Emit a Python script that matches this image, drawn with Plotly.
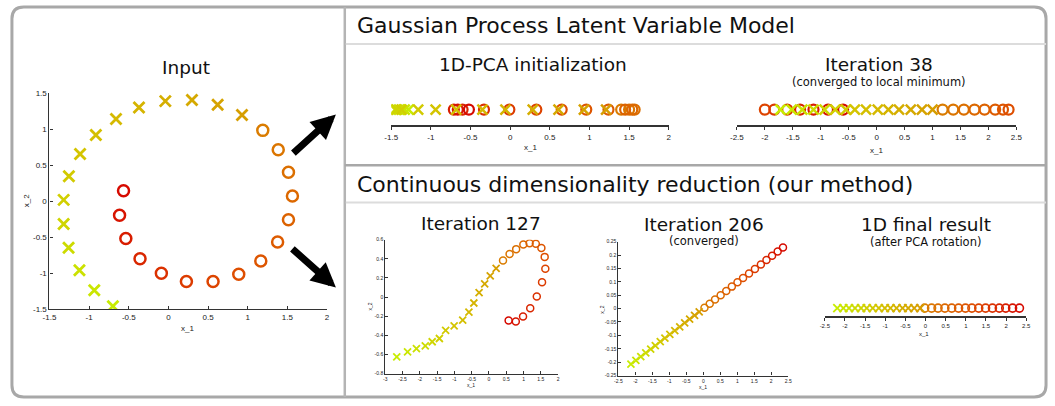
import plotly.graph_objects as go

W, H = 1055, 406

# ---------------- data ----------------
# 30 samples on an open ring; the first 15 are drawn as crosses, the rest as circles
input_x1 = [-0.70, -0.935, -1.122, -1.259, -1.321, -1.321, -1.255, -1.114, -0.915, -0.661,
            -0.371, -0.039, 0.297, 0.621, 0.928,
            1.190, 1.385, 1.514, 1.564, 1.514, 1.377, 1.165, 0.887, 0.563, 0.227,
            -0.089, -0.358, -0.537, -0.616, -0.566]
input_x2 = [-1.46, -1.24, -0.96, -0.65, -0.32, 0.016, 0.345, 0.652, 0.918, 1.139,
            1.297, 1.387, 1.401, 1.338, 1.193,
            0.981, 0.711, 0.399, 0.070, -0.259, -0.570, -0.832, -1.017, -1.116, -1.116,
            -1.003, -0.800, -0.521, -0.196, 0.142]

pca_x1 = [-1.28, -1.33, -1.40, -1.45, -1.43, -1.37, -1.16, -0.94, -0.68, -0.35,
          -0.06, 0.285, 0.61, 0.93, 1.21,
          1.40, 1.50, 1.57, 1.54, 1.45, 1.24, 0.96, 0.65, 0.33, -0.01,
          -0.33, -0.60, -0.71, -0.66, -0.52]

iter38_x1 = [-1.72, -1.52, -1.33, -1.13, -0.93, -0.74, -0.55, -0.39, -0.19, 0.02,
             0.21, 0.40, 0.61, 0.81, 1.00,
             1.18, 1.37, 1.56, 1.75, 1.93, 2.12, 2.26, 2.36, -2.00, -1.83,
             -1.60, -1.37, -1.13, -0.87, -0.60]

iter127_x1 = [-2.668, -2.355, -2.099, -1.843, -1.643, -1.435, -1.254, -1.008, -0.761, -0.581,
              -0.438, -0.286, -0.125, 0.036, 0.207,
              0.406, 0.596, 0.786, 0.994, 1.175, 1.355, 1.516, 1.611, 1.630, 1.535,
              1.383, 1.193, 0.985, 0.776, 0.568]
iter127_x2 = [-0.626, -0.572, -0.538, -0.511, -0.467, -0.433, -0.347, -0.300, -0.242, -0.157,
              -0.062, 0.047, 0.139, 0.221, 0.299,
              0.382, 0.450, 0.501, 0.549, 0.563, 0.556, 0.512, 0.420, 0.297, 0.154,
              0.007, -0.116, -0.204, -0.255, -0.245]

iter206_x1 = [-2.131, -1.985, -1.840, -1.694, -1.549, -1.413, -1.267, -1.131, -0.985, -0.840,
              -0.694, -0.549, -0.403, -0.257, -0.121,
              0.034, 0.189, 0.345, 0.510, 0.675, 0.840, 1.005, 1.170, 1.345, 1.519,
              1.694, 1.859, 2.024, 2.189, 2.345]
iter206_x2 = [-0.207, -0.193, -0.179, -0.165, -0.151, -0.138, -0.123, -0.110, -0.096, -0.082,
              -0.068, -0.053, -0.039, -0.025, -0.012,
              0.003, 0.018, 0.034, 0.050, 0.066, 0.082, 0.098, 0.114, 0.131, 0.148,
              0.165, 0.181, 0.197, 0.213, 0.228]

final_x1 = [-2.19, -2.04, -1.90, -1.75, -1.60, -1.46, -1.31, -1.16, -1.01, -0.87,
            -0.72, -0.57, -0.43, -0.28, -0.13,
            -0.02, 0.15, 0.31, 0.48, 0.65, 0.82, 0.99, 1.15, 1.32, 1.49,
            1.66, 1.83, 1.99, 2.16, 2.33]

N_CROSS = 15

# tick values / labels
ticks_in_x = [-1.5, -1, -0.5, 0, 0.5, 1, 1.5, 2]
ticks_in_x_lbl = ["-1.5", "-1", "-0.5", "0", "0.5", "1", "1.5", "2"]
ticks_in_y = [-1.5, -1, -0.5, 0, 0.5, 1, 1.5]
ticks_in_y_lbl = ["-1.5", "-1", "-0.5", "0", "0.5", "1", "1.5"]
ticks_pca = [-1.5, -1, -0.5, 0, 0.5, 1, 1.5, 2]
ticks_pca_lbl = ["-1.5", "-1", "-0.5", "0", "0.5", "1", "1.5", "2"]
ticks_25 = [-2.5, -2, -1.5, -1, -0.5, 0, 0.5, 1, 1.5, 2, 2.5]
ticks_25_lbl = ["-2.5", "-2", "-1.5", "-1", "-0.5", "0", "0.5", "1", "1.5", "2", "2.5"]
ticks_127_x = [-3, -2.5, -2, -1.5, -1, -0.5, 0, 0.5, 1, 1.5, 2]
ticks_127_x_lbl = ["-3", "-2.5", "-2", "-1.5", "-1", "-0.5", "0", "0.5", "1", "1.5", "2"]
ticks_127_y = [-0.8, -0.6, -0.4, -0.2, 0, 0.2, 0.4, 0.6]
ticks_127_y_lbl = ["-0.8", "-0.6", "-0.4", "-0.2", "0", "0.2", "0.4", "0.6"]
ticks_206_y = [-0.25, -0.2, -0.15, -0.1, -0.05, 0, 0.05, 0.1, 0.15, 0.2, 0.25]
ticks_206_y_lbl = ["-0.25", "-0.2", "-0.15", "-0.1", "-0.05", "0", "0.05", "0.1", "0.15", "0.2", "0.25"]


# ---------------- helpers ----------------
def px(x):
    return x / W


def py(y):
    return 1 - y / H


def lerp(c0, c1, t):
    return tuple(round(a + (b - a) * t) for a, b in zip(c0, c1))


def point_colours(n=30, n_cross=N_CROSS):
    out = []
    for i in range(n):
        if i < n_cross:
            t = i / (n_cross - 1)
            if t < 0.5:
                c = lerp((200, 236, 0), (212, 196, 0), t / 0.5)
            else:
                c = lerp((212, 196, 0), (214, 158, 0), (t - 0.5) / 0.5)
        else:
            t = (i - n_cross) / (n - n_cross - 1)
            if t < 0.5:
                c = lerp((218, 124, 0), (222, 78, 0), t / 0.5)
            else:
                c = lerp((222, 78, 0), (214, 10, 0), (t - 0.5) / 0.5)
        out.append("rgb(%d,%d,%d)" % c)
    return out


COLS = point_colours()
TICK_FONT = "Liberation Sans, Arial, sans-serif"
TITLE_FONT = "DejaVu Sans, Verdana, sans-serif"

fig = go.Figure()


def add_points(xs, ys, ax_id, size, lw):
    xa = "x" if ax_id == 1 else "x%d" % ax_id
    ya = "y" if ax_id == 1 else "y%d" % ax_id
    # circles first, crosses on top
    cx = xs[N_CROSS:]
    cy = ys[N_CROSS:]
    cc = COLS[N_CROSS:]
    fig.add_trace(go.Scatter(x=cx, y=cy, mode="markers", xaxis=xa, yaxis=ya,
                             marker=dict(symbol="circle-open", size=size, color=cc,
                                         line=dict(width=lw, color=cc)),
                             hoverinfo="skip", showlegend=False))
    kx = xs[:N_CROSS]
    ky = ys[:N_CROSS]
    kc = COLS[:N_CROSS]
    fig.add_trace(go.Scatter(x=kx, y=ky, mode="markers", xaxis=xa, yaxis=ya,
                             marker=dict(symbol="x-thin", size=size, color=kc,
                                         line=dict(width=lw + 0.3, color=kc)),
                             hoverinfo="skip", showlegend=False))


def axis(domain, rng, tv, tt, fsize, show=True, line_w=1.2):
    return dict(domain=domain, range=rng, tickvals=tv, ticktext=tt,
                showline=show, linecolor="#333333", linewidth=line_w,
                ticks="inside" if show else "", ticklen=3, tickcolor="#333333",
                showgrid=False, zeroline=False, visible=show,
                tickfont=dict(family=TICK_FONT, size=fsize, color="#222222"),
                fixedrange=True)


ZEROS = [0] * 30

# 1: input
add_points(input_x1, input_x2, 1, 11, 2.5)
fig.update_layout(
    xaxis=axis([px(43), px(324)], [-1.5, 2], ticks_in_x, ticks_in_x_lbl, 8),
    yaxis=axis([py(312), py(91)], [-1.5, 1.5], ticks_in_y, ticks_in_y_lbl, 8),
)
# 2: 1D-PCA initialization
add_points(pca_x1, ZEROS, 2, 10, 2.2)
# 3: Iteration 38
add_points(iter38_x1, ZEROS, 3, 10, 2.2)
# 4: Iteration 127
add_points(iter127_x1, iter127_x2, 4, 7, 1.5)
# 5: Iteration 206
add_points(iter206_x1, iter206_x2, 5, 7, 1.5)
# 6: 1D final result
add_points(final_x1, ZEROS, 6, 8, 1.6)

one_d_y = [py(124), py(92)]
fig.update_layout(
    xaxis2=dict(axis([px(389), px(670)], [-1.5, 2], ticks_pca, ticks_pca_lbl, 8, line_w=1.5),
                anchor="y2", ticks="outside"),
    yaxis2=dict(domain=one_d_y, range=[-1, 1], visible=False, fixedrange=True, anchor="x2"),
    xaxis3=dict(axis([px(739), px(1022)], [-2.5, 2.5], ticks_25, ticks_25_lbl, 8, line_w=1.5),
                anchor="y3", ticks="outside"),
    yaxis3=dict(domain=one_d_y, range=[-1, 1], visible=False, fixedrange=True, anchor="x3"),
    xaxis4=dict(axis([px(383), px(558)], [-3, 2], ticks_127_x, ticks_127_x_lbl, 5), anchor="y4"),
    yaxis4=dict(axis([py(378), py(241)], [-0.8, 0.6], ticks_127_y, ticks_127_y_lbl, 5), anchor="x4"),
    xaxis5=dict(axis([px(619), px(791)], [-2.5, 2.5], ticks_25, ticks_25_lbl, 5), anchor="y5"),
    yaxis5=dict(axis([py(380), py(243)], [-0.25, 0.25], ticks_206_y, ticks_206_y_lbl, 5), anchor="x5"),
    xaxis6=dict(axis([px(828), px(1032)], [-2.5, 2.5], ticks_25, ticks_25_lbl, 6, line_w=1.5),
                anchor="y6", ticks="outside"),
    yaxis6=dict(domain=[py(319), py(303)], range=[-1, 1], visible=False, fixedrange=True, anchor="x6"),
)

# ---------------- texts ----------------
annotations = []


def text(x, y, s, size, anchor="center", angle=0, family=TITLE_FONT, color="#111111"):
    annotations.append(dict(x=px(x), y=py(y), xref="paper", yref="paper", text=s,
                            showarrow=False, xanchor=anchor, yanchor="middle",
                            textangle=angle, borderpad=0,
                            font=dict(family=family, size=size, color=color)))


text(353, 22, "Gaussian Process Latent Variable Model", 22, anchor="left")
text(353, 185, "Continuous dimensionality reduction (our method)", 22, anchor="left")
text(181, 65, "Input", 18.5)
text(533, 62, "1D-PCA initialization", 18.5)
text(883, 62, "Iteration 38", 18.5)
text(883, 80, "(converged to local minimum)", 11.5)
text(480, 224, "Iteration 127", 18.5)
text(706, 225, "Iteration 206", 18.5)
text(706, 242, "(converged)", 11.5)
text(930, 225, "1D final result", 18.5)
text(930, 243, "(after PCA rotation)", 11.5)

# axis titles
text(183, 332, "x_1", 8, family=TICK_FONT, color="#222222")
text(20, 201, "x_2", 8, angle=-90, family=TICK_FONT, color="#222222")
text(530, 147, "x_1", 8, family=TICK_FONT, color="#222222")
text(880, 150, "x_1", 8, family=TICK_FONT, color="#222222")
text(470, 390, "x_1", 5, family=TICK_FONT, color="#222222")
text(368, 309, "x_2", 5, angle=-90, family=TICK_FONT, color="#222222")
text(705, 392, "x_1", 5, family=TICK_FONT, color="#222222")
text(602, 313, "x_2", 5, angle=-90, family=TICK_FONT, color="#222222")
text(928, 337, "x_1", 6, family=TICK_FONT, color="#222222")

# arrows from the input panel to the two method panels
for (hx, hy, tx, ty) in [(333, 113, 289, 153), (333, 290, 288, 250)]:
    annotations.append(dict(x=px(hx), y=py(hy), xref="paper", yref="paper",
                            ax=tx - hx, ay=ty - hy, axref="pixel", ayref="pixel",
                            showarrow=True, arrowhead=2, arrowsize=0.7, arrowwidth=7,
                            arrowcolor="#000000", standoff=0, text=""))

# ---------------- frame ----------------
def rounded_rect(x0, y0, x1, y1, r):
    pts = [
        "M %f,%f" % (px(x0 + r), py(y0)),
        "L %f,%f" % (px(x1 - r), py(y0)),
        "Q %f,%f %f,%f" % (px(x1), py(y0), px(x1), py(y0 + r)),
        "L %f,%f" % (px(x1), py(y1 - r)),
        "Q %f,%f %f,%f" % (px(x1), py(y1), px(x1 - r), py(y1)),
        "L %f,%f" % (px(x0 + r), py(y1)),
        "Q %f,%f %f,%f" % (px(x0), py(y1), px(x0), py(y1 - r)),
        "L %f,%f" % (px(x0), py(y0 + r)),
        "Q %f,%f %f,%f" % (px(x0), py(y0), px(x0 + r), py(y0)),
        "Z",
    ]
    return " ".join(pts)


shapes = [
    dict(type="path", path=rounded_rect(5, 3, 1052, 402, 12), xref="paper", yref="paper",
         line=dict(color="#a8a8a8", width=3)),
    dict(type="line", x0=px(342), x1=px(342), y0=py(3), y1=py(402), xref="paper", yref="paper",
         line=dict(color="#b4b4b4", width=2.5)),
    dict(type="line", x0=px(342), x1=px(1052), y0=py(165), y1=py(165), xref="paper", yref="paper",
         line=dict(color="#a8a8a8", width=2.5)),
    dict(type="line", x0=px(343), x1=px(1052), y0=py(41), y1=py(41), xref="paper", yref="paper",
         line=dict(color="#dcdcdc", width=2)),
    dict(type="line", x0=px(343), x1=px(1052), y0=py(203), y1=py(203), xref="paper", yref="paper",
         line=dict(color="#dcdcdc", width=2)),
]

fig.update_layout(
    width=W, height=H,
    margin=dict(l=0, r=0, t=0, b=0),
    paper_bgcolor="white", plot_bgcolor="white",
    annotations=annotations, shapes=shapes,
    showlegend=False,
)

fig.write_html("out.html", config=dict(displayModeBar=False))
